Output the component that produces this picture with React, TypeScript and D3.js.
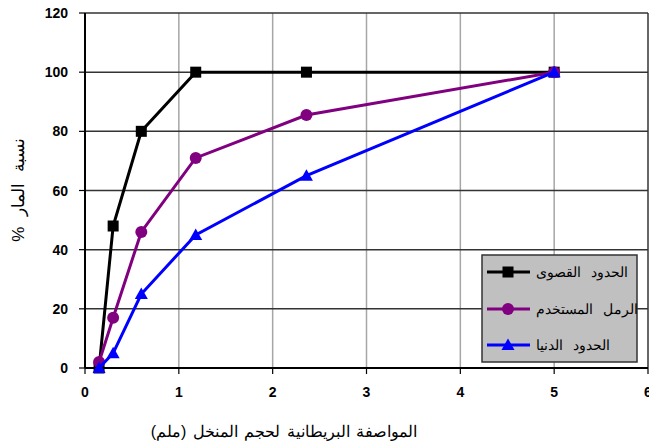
import React from "react";
import * as d3 from "d3";

const sieveSizes = [0.15, 0.3, 0.6, 1.18, 2.36, 5];
const upperLimit = [0, 48, 80, 100, 100, 100];
const usedSand = [2, 17, 46, 71, 85.5, 100];
const lowerLimit = [0, 5, 25, 45, 65, 100];
const xTicks = [0, 1, 2, 3, 4, 5, 6];
const yTicks = [0, 20, 40, 60, 80, 100, 120];
const seriesNames = ["الحدود القصوى", "الرمل المستخدم", "الحدود الدنيا"];
const xTitle = "المواصفة البريطانية لحجم المنخل (ملم)";
const yTitle = "نسبة المار %";

const W = 649, H = 446;
const L = 85, R = 648, T = 13, B = 368;

export default function App() {
  const x = d3.scaleLinear().domain([0, 6]).range([L, R]);
  const y = d3.scaleLinear().domain([0, 120]).range([B, T]);
  const line = d3.line<[number, number]>().x(d => x(d[0])).y(d => y(d[1]));
  const series = [
    { name: seriesNames[0], vals: upperLimit, color: "#000000", marker: "square" },
    { name: seriesNames[1], vals: usedSand, color: "#800080", marker: "circle" },
    { name: seriesNames[2], vals: lowerLimit, color: "#0000FF", marker: "triangle" },
  ];
  const marker = (type: string, cx: number, cy: number, color: string, key: any) => {
    if (type === "square") return <rect key={key} x={cx - 5.5} y={cy - 5.5} width={11} height={11} fill={color} />;
    if (type === "circle") return <circle key={key} cx={cx} cy={cy} r={6} fill={color} />;
    return <path key={key} d={`M${cx},${cy - 6.5}L${cx + 6.5},${cy + 5}L${cx - 6.5},${cy + 5}Z`} fill={color} />;
  };
  const legX = 482, legY = 255, legW = 155, legH = 107;
  const legRows = [272, 309, 345];
  return (
    <svg width={W} height={H} style={{ position: "absolute", left: 0, top: 0, fontFamily: "Arial, 'Liberation Sans', sans-serif" }}>
      <rect x={0} y={0} width={W} height={H} fill="#fff" />
      {xTicks.filter(t => t > 0 && t < 6).map(t => (
        <line key={"vx" + t} x1={x(t)} x2={x(t)} y1={T} y2={B} stroke="#a6a6a6" strokeWidth={1.5} />
      ))}
      {yTicks.filter(t => t > 0).map(t => (
        <line key={"hy" + t} x1={L} x2={R} y1={y(t)} y2={y(t)} stroke="#333" strokeWidth={1.5} />
      ))}
      <line x1={R} x2={R} y1={T} y2={B} stroke="#333" strokeWidth={1.5} />
      <line x1={L} x2={L} y1={T} y2={B} stroke="#000" strokeWidth={2} />
      <line x1={L} x2={R} y1={B} y2={B} stroke="#000" strokeWidth={2} />
      {yTicks.map(t => (
        <g key={"yt" + t}>
          <line x1={L - 6} x2={L} y1={y(t)} y2={y(t)} stroke="#000" strokeWidth={1.2} />
          <text x={L - 17} y={y(t) + 5} textAnchor="end" fontSize={14} fontWeight="bold">{t}</text>
        </g>
      ))}
      {xTicks.map(t => (
        <g key={"xt" + t}>
          <line x1={x(t)} x2={x(t)} y1={B} y2={B + 6} stroke="#000" strokeWidth={1.2} />
          <text x={x(t)} y={B + 29} textAnchor="middle" fontSize={14} fontWeight="bold">{t}</text>
        </g>
      ))}
      {series.map((s, i) => {
        const pts: [number, number][] = sieveSizes.map((v, j) => [v, s.vals[j]]);
        return (
          <g key={"s" + i}>
            <path d={line(pts) || ""} fill="none" stroke={s.color} strokeWidth={3} />
            {pts.map((p, j) => marker(s.marker, x(p[0]), y(p[1]), s.color, j))}
          </g>
        );
      })}
      <rect x={legX} y={legY} width={legW} height={legH} fill="#c0c0c0" stroke="#333" strokeWidth={1.5} />
      {series.map((s, i) => (
        <g key={"lg" + i}>
          <line x1={legX + 5} x2={legX + 48} y1={legRows[i]} y2={legRows[i]} stroke={s.color} strokeWidth={3} />
          {marker(s.marker, legX + 26, legRows[i], s.color, "m")}
          <text x={legX + 54} y={legRows[i] + 5} textAnchor="start" fontSize={14} wordSpacing={6}>{s.name}</text>
        </g>
      ))}
      <text x={284} y={437} textAnchor="middle" fontSize={16} wordSpacing={2}>{xTitle}</text>
      <text transform={`translate(24,190) rotate(-90)`} textAnchor="middle" fontSize={17} wordSpacing={6} direction="rtl">{yTitle}</text>
    </svg>
  );
}
